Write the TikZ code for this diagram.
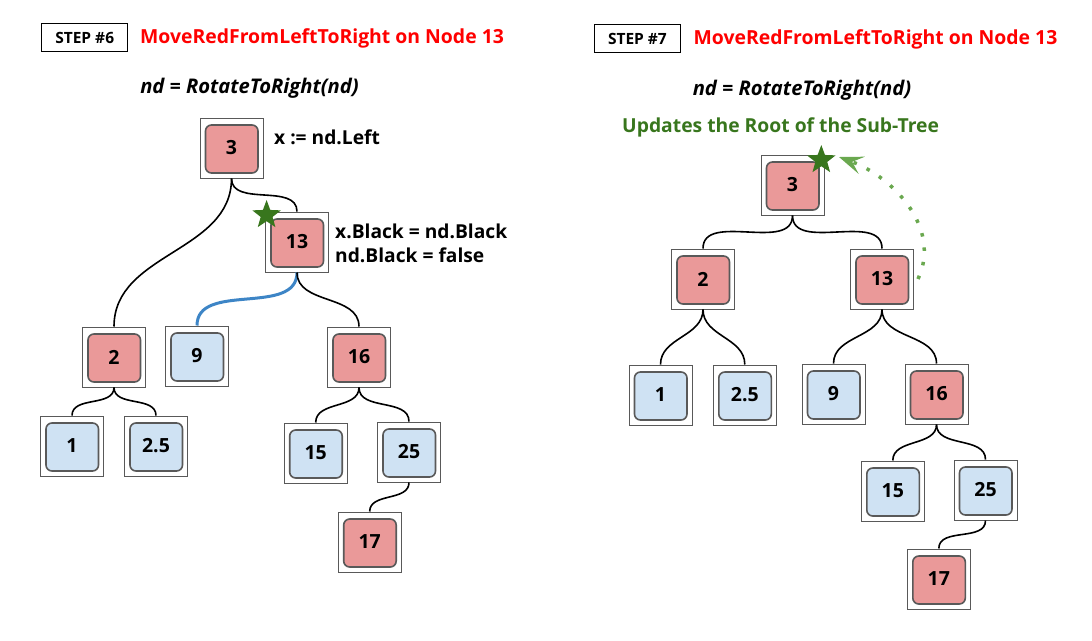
\documentclass[tikz,border=0pt]{standalone}
\usepackage{fontspec}
\setmainfont{Open Sans}
\usetikzlibrary{shapes.geometric,arrows.meta}

\definecolor{keyred}{HTML}{EA9999}
\definecolor{keyblue}{HTML}{CFE2F3}
\definecolor{darkgreen}{HTML}{38761D}
\definecolor{lightgreen}{HTML}{6AA84F}
\definecolor{edgeblue}{HTML}{3D85C6}

\tikzset{
  keybox/.style={draw=black!65, fill=white, line width=1pt, minimum width=63pt, minimum height=60pt,
    inner sep=0pt, font=\bfseries\fontsize{19.5}{22}\selectfont,
    path picture={\draw[line width=1.6pt, rounded corners=6pt, fill=#1]
      ([shift={(5.5pt,5pt)}]path picture bounding box.south west) rectangle
      ([shift={(-5pt,-7pt)}]path picture bounding box.north east);}},
  rednode/.style={keybox=keyred},
  bluenode/.style={keybox=keyblue},
  link/.style={line width=1.6pt, out=-90, in=90},
  stepbox/.style={draw, line width=1.4pt, minimum width=86pt, minimum height=28pt, inner sep=0pt,
    font=\bfseries\fontsize{15.5}{18}\selectfont},
  headline/.style={anchor=west, inner sep=0pt, text=red, font=\bfseries\fontsize{19.4}{22}\selectfont},
  callname/.style={font=\bfseries\itshape\fontsize{20.2}{22}\selectfont},
  remark/.style={anchor=west, inner sep=0pt, align=left, font=\bfseries\fontsize{19.2}{24}\selectfont},
  mark star/.style={star, star points=5, star point ratio=2.4, fill=darkgreen, minimum size=30pt, inner sep=0pt}
}

\begin{document}
\begin{tikzpicture}[x=1pt, y=1pt]
\useasboundingbox (0,0) rectangle (1092,-640);

% Step 6
\node[stepbox] (s6) at (84.7,-37.5) {STEP \#6};
\node[headline] (t6) at (140,-38) {MoveRedFromLeftToRight on Node 13};
\node[callname] (c6) at (249.5,-88) {nd = RotateToRight(nd)};

% Define vertices
\node[rednode] (l3) at (231.5,-148) {3};
\node[rednode] (l13) at (297,-242) {13};
\node[rednode] (l2) at (114,-357) {2};
\node[bluenode] (l9) at (197,-356) {9};
\node[rednode] (l16) at (359,-357) {16};
\node[bluenode] (l1) at (72,-446) {1};
\node[bluenode] (l25h) at (156,-446) {2.5};
\node[bluenode] (l15) at (315.7,-453) {15};
\node[bluenode] (l25) at (409,-452) {25};
\node[rednode] (l17) at (369.7,-542) {17};

\node[remark] (n6a) at (274,-137) {x := nd.Left};
\node[remark] (n6b) at (335,-243) {x.Black = nd.Black\\nd.Black = false};
\node[mark star] (star6) at (266.6,-215) {};

% Edges of step 6
\draw[link] (l3.south) to (l13.north);
\draw[link] (l3.south) to (l2.north);
\draw[link, edgeblue, line width=3pt] (l13.south) to (l9.north);
\draw[link] (l13.south) to (l16.north);
\draw[link] (l2.south) to (l1.north);
\draw[link] (l2.south) to (l25h.north);
\draw[link] (l16.south) to (l15.north);
\draw[link] (l16.south) to (l25.north);
\draw[link] (l25.south) to (l17.north);

% Step 7
\node[stepbox] (s7) at (637.4,-38.5) {STEP \#7};
\node[headline] (t7) at (693.4,-39) {MoveRedFromLeftToRight on Node 13};
\node[callname] (c7) at (802,-90) {nd = RotateToRight(nd)};
\node[anchor=west, inner sep=0pt, text=darkgreen, font=\bfseries\fontsize{19.3}{22}\selectfont] (u7) at (622,-127) {Updates the Root of the Sub-Tree};

% Define vertices
\node[rednode] (r3) at (792.5,-185) {3};
\node[rednode] (r2) at (703,-279) {2};
\node[rednode] (r13) at (882,-279) {13};
\node[bluenode] (r1) at (660.5,-395) {1};
\node[bluenode] (r25h) at (744.8,-395) {2.5};
\node[bluenode] (r9) at (833.5,-394) {9};
\node[rednode] (r16) at (936.5,-394) {16};
\node[bluenode] (r15) at (892.8,-491) {15};
\node[bluenode] (r25) at (985.5,-490) {25};
\node[rednode] (r17) at (938.8,-579) {17};

% Edges of step 7
\draw[link] (r3.south) to (r2.north);
\draw[link] (r3.south) to (r13.north);
\draw[link] (r2.south) to (r1.north);
\draw[link] (r2.south) to (r25h.north);
\draw[link] (r13.south) to (r9.north);
\draw[link] (r13.south) to (r16.north);
\draw[link] (r16.south) to (r15.north);
\draw[link] (r16.south) to (r25.north);
\draw[link] (r25.south) to (r17.north);

\node[mark star] (star7) at (821.3,-160) {};
\coordinate (tip7) at (839,-157);
\draw[lightgreen, line width=3.5pt, dash pattern=on 3.5pt off 11pt,
  -{Stealth[length=24pt, width=18pt, inset=10pt]}]
  ([xshift=4pt]r13.east) to[out=65, in=-20] (tip7);

\end{tikzpicture}
\end{document}
